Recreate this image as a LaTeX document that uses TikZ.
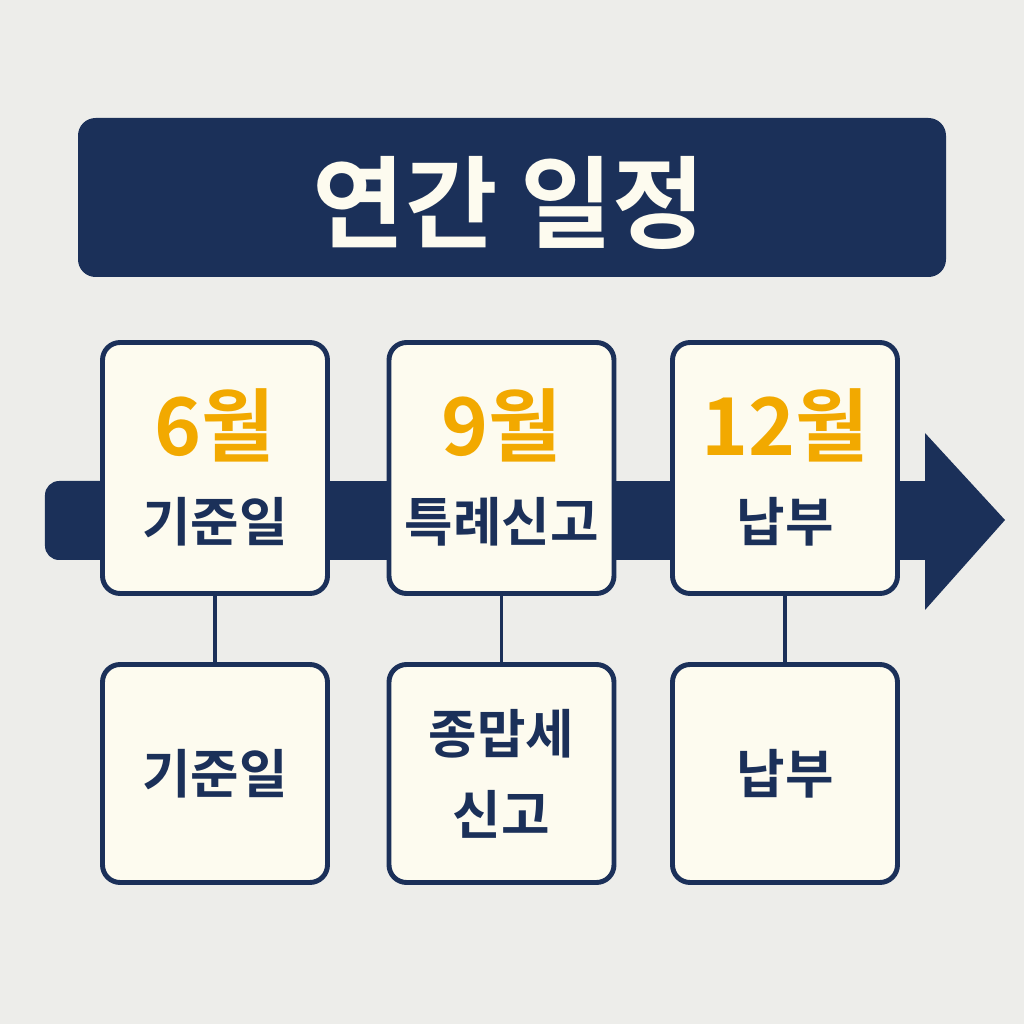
\documentclass[tikz,border=0pt]{standalone}
\usepackage{fontspec}
\setmainfont{Noto Sans CJK KR}[BoldFont={Noto Sans CJK KR Bold}]
\definecolor{navy}{RGB}{27,48,89}
\definecolor{amber}{RGB}{242,169,0}
\definecolor{cream}{RGB}{253,251,239}
\definecolor{paper}{RGB}{237,237,234}

\begin{document}
\begin{tikzpicture}[
				line cap=round,
				line join=round,
				every node/.style={font=\bfseries, text=navy},
				datebox/.style={draw=navy, line width=1.4pt, fill=cream, rounded corners=5pt,
					minimum width=2.25cm, minimum height=2.51cm, inner sep=0pt},
				taskbox/.style={datebox, minimum height=2.18cm},
				month/.style={text=amber, font=\bfseries\fontsize{22.7}{27}\selectfont},
				event/.style={font=\bfseries\fontsize{15}{23}\selectfont, align=center}
				]
				% Background
				\fill[paper] (0,0) rectangle (10.24,10.24);
				\useasboundingbox (0,0) rectangle (10.24,10.24);
				
				% Title
				\fill[navy, rounded corners=5pt] (0.78,7.47) rectangle (9.46,9.06);
				\node[text=cream, font=\bfseries\fontsize{28.6}{33}\selectfont] (title) at (5.09,8.21) {연간 일정};
				
				% Timeline arrow
				\fill[navy, rounded corners=4pt] (0.45,4.64) rectangle (2,5.43);
				\fill[navy] (1.5,4.64) rectangle (9.30,5.43);
				\fill[navy] (9.25,5.91) -- (10.05,5.04) -- (9.25,4.14) -- cycle;
				
				% Date boxes
				\node[datebox] (jun) at (2.15,5.56) {};
				\node[datebox] (sep) at (5.015,5.56) {};
				\node[datebox] (dec) at (7.85,5.56) {};
				\node[month] (junm) at (2.15,5.99) {6월};
				\node[month] (sepm) at (5.015,5.99) {9월};
				\node[month] (decm) at (7.85,5.99) {12월};
				\node[event] (junl) at (2.15,5.02) {기준일};
				\node[event] (sepl) at (5.015,5.02) {특례신고};
				\node[event] (decl) at (7.85,5.02) {납부};
				
				% Task boxes
				\node[taskbox, event] (juntask) at (2.15,2.505) {기준일};
				\node[taskbox, event] (septask) at (5.015,2.505) {종맙세\\신고};
				\node[taskbox, event] (dectask) at (7.85,2.505) {납부};
				
				% Links
				\draw[navy, line width=1.1pt] (jun.south) -- (juntask.north);
				\draw[navy, line width=1.1pt] (sep.south) -- (septask.north);
				\draw[navy, line width=1.1pt] (dec.south) -- (dectask.north);
			\end{tikzpicture}
\end{document}
